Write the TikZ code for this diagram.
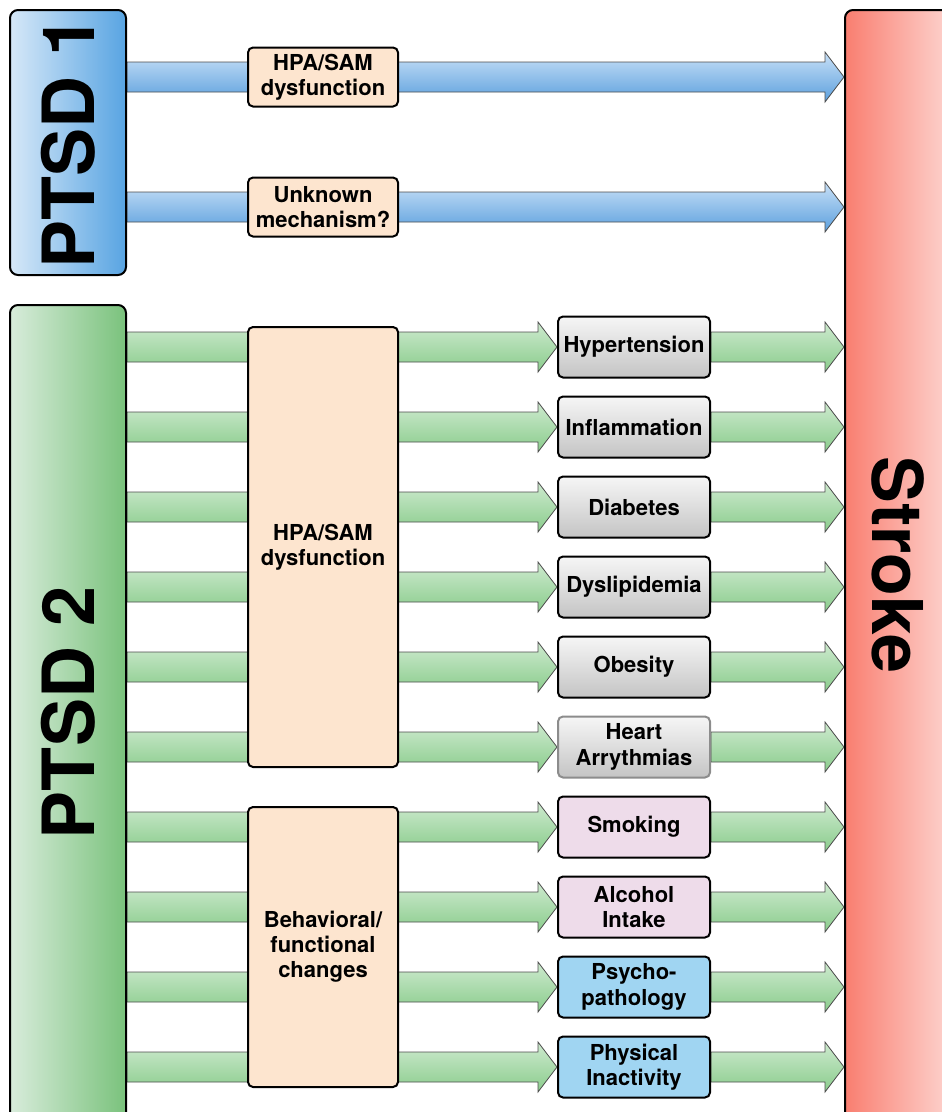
\documentclass[tikz,border=0pt]{standalone}
\usepackage{fontspec}
\setmainfont{TeX Gyre Heros}
\usepackage{xcolor}
\usetikzlibrary{calc,backgrounds}

\definecolor{blueboxL}{RGB}{214,232,248}
\definecolor{blueboxR}{RGB}{88,164,226}
\definecolor{greenboxL}{RGB}{216,236,219}
\definecolor{greenboxR}{RGB}{122,194,124}
\definecolor{strokeL}{RGB}{249,126,112}
\definecolor{strokeR}{RGB}{253,212,207}
\definecolor{bluearrT}{RGB}{200,224,247}
\definecolor{bluearrB}{RGB}{92,160,222}
\definecolor{greenarrT}{RGB}{206,234,207}
\definecolor{greenarrB}{RGB}{138,204,140}
\definecolor{peach}{RGB}{253,229,207}
\definecolor{greyT}{RGB}{246,246,246}
\definecolor{greyB}{RGB}{196,196,196}
\definecolor{pinkfill}{RGB}{238,220,234}
\definecolor{cyanfill}{RGB}{160,213,242}

% fat shaded arrow: #1 style, #2 start, #3 tip
\newcommand{\fatarrow}[3]{%
  \path (#2) coordinate (fa-s) (#3) coordinate (fa-e);
  \shadedraw[#1] ($(fa-s)+(0,15)$) -- ($(fa-e)+(-19,15)$) -- ($(fa-e)+(-19,25)$)
    -- (fa-e) -- ($(fa-e)+(-19,-25)$) -- ($(fa-e)+(-19,-15)$)
    -- ($(fa-s)+(0,-15)$) -- cycle;}

\begin{document}
\begin{tikzpicture}[x=1pt, y=1pt,
    bigbox/.style={draw, line width=2pt, rounded corners=8pt, inner sep=0pt,
                   font=\fontsize{72}{72}\selectfont\bfseries},
    mech/.style={draw, line width=2pt, rounded corners=5pt, fill=peach,
                 minimum width=150pt, align=center, inner sep=2pt,
                 font=\fontsize{22}{25}\selectfont\bfseries},
    risk/.style={draw, line width=2pt, rounded corners=5pt,
                 minimum width=152pt, minimum height=61pt, align=center,
                 inner sep=2pt, font=\fontsize{22}{25.5}\selectfont\bfseries},
    greybox/.style={risk, top color=greyT, bottom color=greyB},
    pinkbox/.style={risk, fill=pinkfill},
    cyanbox/.style={risk, fill=cyanfill},
    bluearr/.style={top color=bluearrT, bottom color=bluearrB,
                    draw=black!70, line width=0.8pt},
    greenarr/.style={top color=greenarrT, bottom color=greenarrB,
                     draw=black!70, line width=0.8pt},
  ]
    \useasboundingbox (0,0) rectangle (942,-1112);
    \clip (0,0) rectangle (942,-1112);

    \node[bigbox, minimum width=116pt, minimum height=265pt,
          left color=blueboxL, right color=blueboxR] (ptsdA) at (68,-142.5) {\rotatebox{90}{PTSD 1}};
    \node[bigbox, minimum width=116pt, minimum height=816pt,
          left color=greenboxL, right color=greenboxR] (ptsdB) at (68,-713) {\rotatebox{90}{PTSD 2}};
    \node[bigbox, minimum width=106pt, minimum height=1110pt,
          left color=strokeL, right color=strokeR,
          font=\fontsize{70}{70}\selectfont\bfseries] (stroke) at (898,-565) {\rotatebox{-90}{Stroke}};

    \node[mech, minimum height=59pt]  (hpaA) at (323,-77)  {HPA/SAM\\dysfunction};
    \node[mech, minimum height=59pt]  (unkA) at (323,-207) {Unknown\\mechanism?};
    \node[mech, minimum height=440pt] (hpaB) at (323,-547) {HPA/SAM\\dysfunction};
    \node[mech, minimum height=280pt] (behB) at (323,-947) {Behavioral/\\functional\\changes};

    \node[greybox] (hyper) at (634,-347)  {Hypertension};
    \node[greybox] (infl)  at (634,-427)  {Inflammation};
    \node[greybox] (diab)  at (634,-507)  {Diabetes};
    \node[greybox] (dysl)  at (634,-587)  {Dyslipidemia};
    \node[greybox] (obes)  at (634,-667)  {Obesity};
    \node[greybox, draw=black!45] (heart) at (634,-747) {Heart\\Arrythmias};
    \node[pinkbox] (smok)  at (634,-827)  {Smoking};
    \node[pinkbox] (alco)  at (634,-907)  {Alcohol\\Intake};
    \node[cyanbox] (psych) at (634,-987)  {Psycho-\\pathology};
    \node[cyanbox] (phys)  at (634,-1067) {Physical\\Inactivity};

    \begin{scope}[on background layer]
      \fatarrow{bluearr}{ptsdA.east |- hpaA}{stroke.west |- hpaA}
      \fatarrow{bluearr}{ptsdA.east |- unkA}{stroke.west |- unkA}

      \fatarrow{greenarr}{ptsdB.east |- hyper}{hyper.west}
      \fatarrow{greenarr}{ptsdB.east |- infl}{infl.west}
      \fatarrow{greenarr}{ptsdB.east |- diab}{diab.west}
      \fatarrow{greenarr}{ptsdB.east |- dysl}{dysl.west}
      \fatarrow{greenarr}{ptsdB.east |- obes}{obes.west}
      \fatarrow{greenarr}{ptsdB.east |- heart}{heart.west}
      \fatarrow{greenarr}{ptsdB.east |- smok}{smok.west}
      \fatarrow{greenarr}{ptsdB.east |- alco}{alco.west}
      \fatarrow{greenarr}{ptsdB.east |- psych}{psych.west}
      \fatarrow{greenarr}{ptsdB.east |- phys}{phys.west}

      \fatarrow{greenarr}{hyper.east}{stroke.west |- hyper}
      \fatarrow{greenarr}{infl.east}{stroke.west |- infl}
      \fatarrow{greenarr}{diab.east}{stroke.west |- diab}
      \fatarrow{greenarr}{dysl.east}{stroke.west |- dysl}
      \fatarrow{greenarr}{obes.east}{stroke.west |- obes}
      \fatarrow{greenarr}{heart.east}{stroke.west |- heart}
      \fatarrow{greenarr}{smok.east}{stroke.west |- smok}
      \fatarrow{greenarr}{alco.east}{stroke.west |- alco}
      \fatarrow{greenarr}{psych.east}{stroke.west |- psych}
      \fatarrow{greenarr}{phys.east}{stroke.west |- phys}
    \end{scope}
  \end{tikzpicture}
\end{document}
